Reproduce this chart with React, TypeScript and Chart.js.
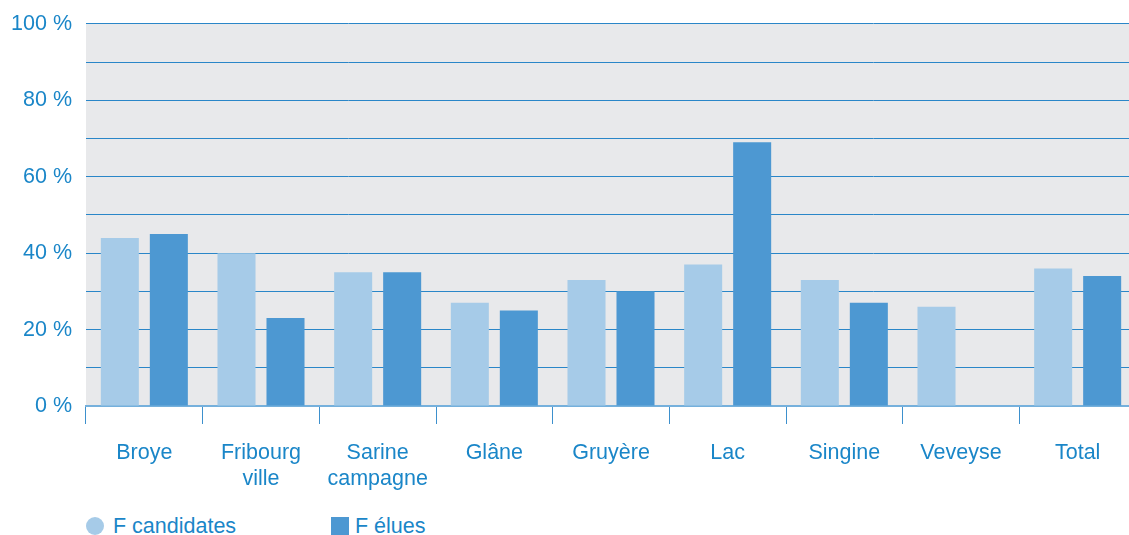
import React, { useEffect, useRef } from "react";
import { Chart, registerables } from "chart.js";

Chart.register(...registerables);

const categories: (string | string[])[] = [
  "Broye",
  ["Fribourg", "ville"],
  ["Sarine", "campagne"],
  "Glâne",
  "Gruyère",
  "Lac",
  "Singine",
  "Veveyse",
  "Total",
];
const candidates = [44, 40, 35, 27, 33, 37, 33, 26, 36];
const elues = [45, 23, 35, 25, 30, 69, 27, 0, 34];
const seriesNames = ["F candidates", "F élues"];

const TEXT = "#1a86c8";
const LIGHT = "#a6cbe8";
const DARK = "#4d98d2";
const FONT = "'Liberation Sans', Arial, sans-serif";

const bgPlugin = {
  id: "plotBg",
  beforeDraw(chart: any) {
    const { ctx, chartArea } = chart;
    ctx.save();
    ctx.fillStyle = "#e8e9eb";
    ctx.fillRect(chartArea.left, chartArea.top, chartArea.right - chartArea.left, chartArea.bottom - chartArea.top);
    ctx.restore();
  },
};

export default function App() {
  const ref = useRef<HTMLCanvasElement>(null);
  useEffect(() => {
    if (!ref.current) return;
    const chart = new Chart(ref.current, {
      type: "bar",
      data: {
        labels: categories,
        datasets: [
          { label: seriesNames[0], data: candidates, backgroundColor: LIGHT, categoryPercentage: 0.84, barPercentage: 0.776 },
          { label: seriesNames[1], data: elues, backgroundColor: DARK, categoryPercentage: 0.84, barPercentage: 0.776 },
        ],
      },
      options: {
        animation: false,
        responsive: false,
        maintainAspectRatio: false,
        layout: { padding: { top: 20, right: 0, left: 0, bottom: 0 } },
        plugins: { legend: { display: false }, tooltip: { enabled: false } },
        scales: {
          x: {
            offset: true,
            grid: { display: true, drawOnChartArea: false, drawTicks: true, tickLength: 18, color: "#3d90cd", lineWidth: 1 },
            border: { display: true, color: "#75b0dc", width: 2 },
            ticks: { color: TEXT, font: { family: FONT, size: 21.5, lineHeight: 1.22 }, padding: 16, maxRotation: 0, autoSkip: false },
            afterFit(scale: any) { scale.height = 94; },
          },
          y: {
            min: 0,
            max: 100,
            ticks: {
              stepSize: 10,
              color: TEXT,
              font: { family: FONT, size: 21.5 },
              padding: 14,
              callback: (v: any) => (Number(v) % 20 === 0 ? `${v} %` : ""),
            },
            grid: { color: "#2a86c8", lineWidth: 1, drawTicks: false },
            border: { display: false },
            afterFit(scale: any) { scale.width = 86; },
          },
        },
      },
      plugins: [bgPlugin],
    });
    return () => chart.destroy();
  }, []);

  const legendText: React.CSSProperties = { position: "absolute", top: 513, fontFamily: FONT, fontSize: 21.5, color: TEXT, lineHeight: "26px", whiteSpace: "nowrap" };
  return (
    <div style={{ position: "fixed", left: 0, top: 0, width: 1129, height: 535, overflow: "hidden", background: "#fff" }}>
      <canvas ref={ref} width={1136} height={503} style={{ position: "absolute", left: 0, top: -3, width: 1136, height: 503 }} />
      <div style={{ position: "absolute", left: 86, top: 517, width: 18, height: 18, borderRadius: 9, background: LIGHT }} />
      <div style={{ ...legendText, left: 113 }}>{seriesNames[0]}</div>
      <div style={{ position: "absolute", left: 331, top: 517, width: 18, height: 18, background: DARK }} />
      <div style={{ ...legendText, left: 355 }}>{seriesNames[1]}</div>
    </div>
  );
}
